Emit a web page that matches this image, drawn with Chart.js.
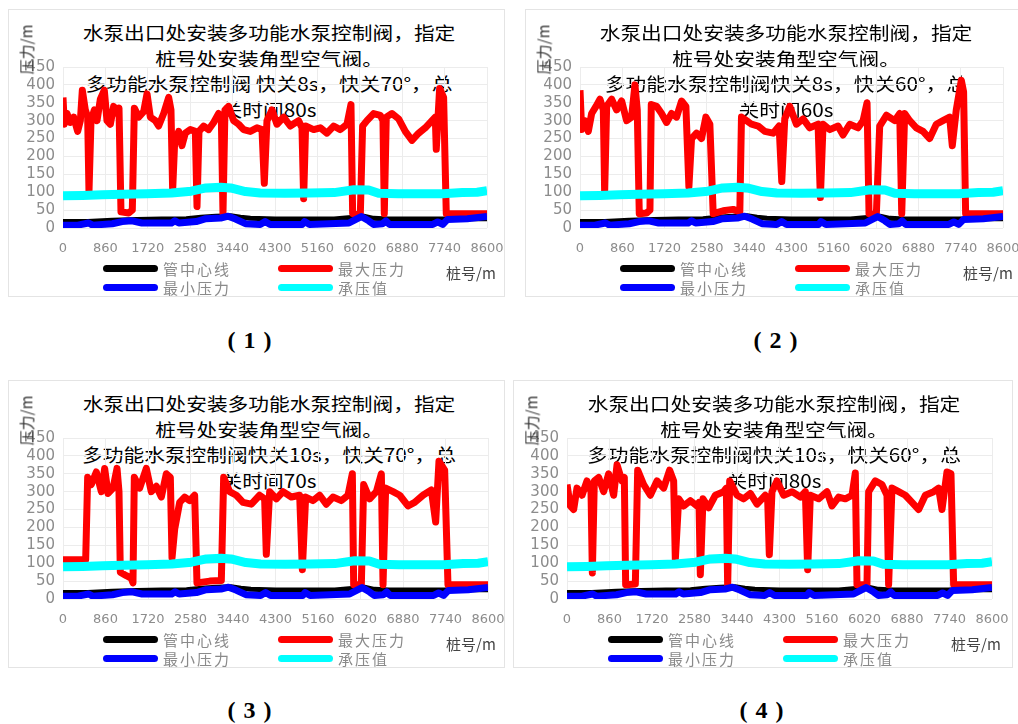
<!DOCTYPE html>
<html>
<head>
<meta charset="utf-8">
<script src="https://cdn.jsdelivr.net/npm/chart.js@4.4.1/dist/chart.umd.min.js"></script>
<style>
  body { margin: 0; background: #fff; width: 1018px; height: 724px; overflow: hidden; position: relative; }
  .panel { position: absolute; border: 1px solid #e4e4e4; box-sizing: border-box; background: #fff; }
  .panel canvas { position: absolute; left: -1px; top: -1px; }
  .ttl { position: absolute; left: 0; width: 520px; text-align: center; color: #000;
         font-family: "Noto Sans CJK SC"; font-size: 18px; line-height: 25.5px; white-space: nowrap;
         transform: scaleX(1.15); transform-origin: 50% 0; }
  .ylab { position: absolute; font-family: "Noto Sans CJK SC"; font-size: 15px; color: #333;
          transform: rotate(-90deg); white-space: nowrap; }
  .leg { position: absolute; font-family: "Noto Sans CJK SC"; font-size: 15px; color: #8a8a8a; white-space: nowrap; letter-spacing: 2px; }
  .sw { position: absolute; height: 7px; width: 55px; border-radius: 4px; }
  .xlab { position: absolute; font-family: "Noto Sans CJK SC"; font-size: 15px; color: #444; white-space: nowrap; }
  .num { position: absolute; font-family: "Liberation Serif"; font-weight: bold; font-size: 24px; letter-spacing: 1px; white-space: nowrap; }
</style>
</head>
<body>
<script>
// x axis ticks (桩号/m)
const stationTicks = [0, 860, 1720, 2580, 3440, 4300, 5160, 6020, 6880, 7740, 8600];
const seriesNames = ['管中心线', '最大压力', '最小压力', '承压值'];
const seriesColors = ['#000000', '#ff0000', '#0000ff', '#00ffff'];

// 管中心线 (same in all four charts)
const centerX = [0, 500, 1000, 1500, 2000, 2500, 2800, 3100, 3400, 3600, 3800, 4300, 5000, 5500, 5900, 6100, 6300, 6600, 7000, 7700, 8000, 8600];
const centerY = [18, 18, 22, 24, 25, 26, 30, 33, 34, 30, 27, 25, 25, 25, 30, 33, 27, 25, 25, 25, 26, 26];

// 最小压力
const minX = [0, 300, 520, 600, 1000, 1200, 1400, 1600, 2200, 2270, 2350, 2700, 2900, 3200, 3350, 3500, 3700, 4000, 4100, 4200, 4850, 4900, 5000, 5800, 5950, 6050, 6200, 6300, 6480, 6550, 6620, 7500, 7600, 7700, 7800, 8200, 8600];
const minY = [8, 8, 14, 8, 12, 18, 20, 14, 14, 20, 14, 18, 26, 28, 33, 25, 12, 10, 18, 10, 10, 18, 10, 14, 25, 32, 20, 10, 12, 20, 10, 10, 17, 10, 24, 26, 32];

// 承压值
const bearX = [0, 400, 800, 1200, 1700, 2200, 2600, 2900, 3200, 3400, 3700, 4000, 4500, 5000, 5500, 5900, 6200, 6400, 6800, 7300, 7700, 8100, 8400, 8600];
const bearY = [90, 91, 93, 94, 96, 98, 103, 112, 114, 112, 102, 98, 97, 98, 99, 107, 106, 97, 96, 96, 96, 99, 100, 104];

// 最大压力, chart (1)
const max1X = [0, 27, 81, 149, 216, 297, 352, 392, 453, 500, 527, 568, 635, 690, 757, 838, 892, 960, 1027, 1095, 1136, 1176, 1332, 1406, 1447, 1535, 1636, 1704, 1771, 1873, 1940, 2042, 2143, 2190, 2224, 2265, 2346, 2413, 2481, 2582, 2684, 2718, 2758, 2853, 2954, 3056, 3157, 3211, 3245, 3285, 3360, 3461, 3562, 3664, 3799, 3934, 4036, 4083, 4137, 4239, 4340, 4475, 4610, 4779, 4847, 4881, 4921, 5084, 5219, 5354, 5489, 5624, 5760, 5841, 5875, 6030, 6077, 6165, 6300, 6436, 6490, 6517, 6557, 6672, 6808, 6943, 7078, 7213, 7348, 7484, 7551, 7571, 7639, 7720, 7774, 8600];
const max1Y = [365, 290, 320, 295, 310, 270, 300, 385, 330, 310, 100, 300, 330, 300, 360, 385, 300, 290, 340, 320, 335, 45, 42, 50, 335, 310, 325, 375, 310, 300, 285, 320, 365, 330, 105, 240, 270, 230, 265, 275, 270, 60, 270, 285, 275, 295, 320, 310, 40, 330, 340, 300, 290, 275, 270, 280, 275, 125, 300, 330, 290, 310, 285, 300, 280, 82, 285, 275, 280, 265, 285, 275, 290, 345, 40, 35, 285, 300, 320, 315, 300, 40, 310, 320, 305, 270, 245, 265, 280, 300, 310, 220, 390, 365, 40, 40];

// 最大压力, chart (2)
const max2X = [0, 34, 102, 169, 237, 325, 406, 474, 501, 542, 643, 745, 846, 948, 1049, 1117, 1164, 1205, 1354, 1422, 1449, 1557, 1659, 1760, 1862, 1963, 2065, 2153, 2214, 2268, 2369, 2471, 2559, 2640, 2708, 2911, 3114, 3249, 3283, 3385, 3487, 3622, 3757, 3926, 4048, 4102, 4163, 4265, 4400, 4536, 4671, 4840, 4887, 4942, 5077, 5246, 5348, 5484, 5653, 5755, 5836, 5876, 6025, 6093, 6229, 6398, 6500, 6541, 6601, 6703, 6838, 6974, 7109, 7244, 7379, 7515, 7569, 7650, 7752, 7799, 7840, 8600];
const max2Y = [385, 275, 300, 270, 320, 340, 360, 330, 100, 340, 360, 330, 355, 300, 310, 400, 330, 40, 42, 50, 345, 340, 320, 295, 320, 310, 355, 340, 115, 250, 265, 250, 310, 290, 40, 48, 52, 45, 310, 300, 290, 285, 270, 265, 285, 130, 305, 340, 290, 305, 280, 290, 85, 290, 275, 285, 260, 290, 280, 300, 350, 40, 38, 285, 315, 300, 320, 40, 320, 300, 280, 270, 250, 290, 300, 310, 230, 330, 413, 380, 40, 40];

// 最大压力, chart (3)
const max3X = [0, 459, 499, 573, 674, 776, 843, 911, 1012, 1093, 1133, 1160, 1282, 1383, 1416, 1443, 1551, 1686, 1787, 1889, 1990, 2091, 2172, 2206, 2260, 2361, 2462, 2563, 2664, 2711, 2968, 3204, 3251, 3372, 3507, 3642, 3811, 3979, 4080, 4114, 4182, 4317, 4452, 4620, 4789, 4843, 4910, 5059, 5194, 5328, 5463, 5632, 5767, 5855, 5882, 6037, 6084, 6206, 6341, 6442, 6476, 6529, 6678, 6813, 6981, 7116, 7284, 7453, 7541, 7608, 7723, 7790, 8600];
const max3Y = [110, 110, 340, 320, 355, 300, 365, 295, 310, 365, 300, 75, 65, 58, 45, 340, 310, 365, 300, 315, 285, 350, 340, 115, 195, 270, 285, 275, 290, 45, 50, 52, 340, 300, 290, 270, 265, 290, 280, 125, 300, 280, 300, 285, 290, 82, 285, 275, 290, 265, 285, 275, 290, 350, 40, 40, 320, 280, 300, 350, 40, 310, 300, 290, 260, 270, 290, 305, 215, 385, 360, 40, 40];

// 最大压力, chart (4)
const max4X = [0, 67, 135, 202, 304, 405, 486, 513, 553, 641, 742, 843, 944, 1012, 1113, 1160, 1187, 1383, 1430, 1551, 1686, 1821, 1956, 2077, 2158, 2192, 2260, 2361, 2496, 2631, 2671, 2698, 2752, 2867, 3002, 3170, 3224, 3251, 3292, 3440, 3575, 3710, 3845, 4013, 4060, 4094, 4148, 4249, 4384, 4553, 4722, 4823, 4870, 4924, 5092, 5261, 5362, 5497, 5632, 5767, 5834, 5868, 6070, 6104, 6238, 6373, 6475, 6508, 6576, 6711, 6846, 6981, 7116, 7251, 7419, 7520, 7588, 7689, 7770, 7824, 8600];
const max4Y = [320, 260, 250, 310, 290, 330, 300, 73, 330, 340, 300, 350, 290, 375, 330, 340, 40, 42, 360, 320, 290, 330, 310, 360, 330, 110, 280, 260, 275, 260, 270, 68, 280, 255, 290, 300, 310, 35, 330, 290, 280, 295, 265, 290, 280, 124, 300, 330, 290, 300, 285, 300, 82, 290, 280, 300, 260, 285, 280, 290, 352, 40, 40, 300, 330, 320, 290, 40, 310, 300, 290, 270, 250, 290, 300, 310, 250, 355, 350, 40, 40];

const titleLines = [
  ['水泵出口处安装多功能水泵控制阀，指定', '桩号处安装角型空气阀。', '多功能水泵控制阀 快关8s，快关70°，总', '关时间80s'],
  ['水泵出口处安装多功能水泵控制阀，指定', '桩号处安装角型空气阀。', '多功能水泵控制阀快关8s，快关60°，总', '关时间60s'],
  ['水泵出口处安装多功能水泵控制阀，指定', '桩号处安装角型空气阀。', '多功能水泵控制阀快关10s，快关70°，总', '关时间70s'],
  ['水泵出口处安装多功能水泵控制阀，指定', '桩号处安装角型空气阀。', '多功能水泵控制阀快关10s，快关60°，总', '关时间80s']
];
const panelLabels = ['( 1 )', '( 2 )', '( 3 )', '( 4 )'];

// panel boxes and plot areas (relative to panel)
const panels = [
  { left: 8,   top: 9,   w: 497, h: 288, L: 55, R: 479, T: 58, B: 219, mx: max1X, my: max1Y, numX: 250, numY: 342 },
  { left: 525, top: 9,   w: 500, h: 288, L: 55, R: 478, T: 58, B: 219, mx: max2X, my: max2Y, numX: 776, numY: 342 },
  { left: 8,   top: 380, w: 497, h: 288, L: 55, R: 480, T: 58, B: 219, mx: max3X, my: max3Y, numX: 250, numY: 712 },
  { left: 513, top: 380, w: 500, h: 288, L: 54, R: 479, T: 58, B: 219, mx: max4X, my: max4Y, numX: 762, numY: 712 }
];

function pts(xs, ys) {
  return xs.map(function(x, i) { return { x: x, y: ys[i] }; });
}

function line(label, color, width, data) {
  return {
    label: label, data: data, borderColor: color, backgroundColor: color,
    borderWidth: width, pointRadius: 0, tension: 0, fill: false,
    borderJoinStyle: 'round', borderCapStyle: 'butt'
  };
}

panels.forEach(function(p, k) {
  var div = document.createElement('div');
  div.className = 'panel';
  div.style.cssText = 'left:' + p.left + 'px;top:' + p.top + 'px;width:' + p.w + 'px;height:' + p.h + 'px;';
  document.body.appendChild(div);

  // title sits behind the plot, lines drawn over it
  var ttl = document.createElement('div');
  ttl.className = 'ttl';
  ttl.style.top = '10px';
  ttl.innerHTML = titleLines[k].join('<br>');
  div.appendChild(ttl);

  var cv = document.createElement('canvas');
  cv.width = p.w; cv.height = p.h;
  cv.style.width = p.w + 'px'; cv.style.height = p.h + 'px';
  div.appendChild(cv);

  var ylab = document.createElement('div');
  ylab.className = 'ylab';
  ylab.textContent = '压力/m';
  ylab.style.left = '-8px'; ylab.style.top = '29px';
  div.appendChild(ylab);

  // legend: 2 x 2
  var legPos = [[94, 259], [269, 259], [94, 278], [269, 278]];
  [0, 1, 2, 3].forEach(function(s, j) {
    var sw = document.createElement('div');
    sw.className = 'sw';
    sw.style.background = seriesColors[s];
    sw.style.left = legPos[j][0] + 'px';
    sw.style.top = (legPos[j][1] - 4) + 'px';
    div.appendChild(sw);
    var t = document.createElement('div');
    t.className = 'leg';
    t.textContent = seriesNames[s];
    t.style.left = (legPos[j][0] + 60) + 'px';
    t.style.top = (legPos[j][1] - 11) + 'px';
    div.appendChild(t);
  });
  var xl = document.createElement('div');
  xl.className = 'xlab';
  xl.textContent = '桩号/m';
  xl.style.left = '437px'; xl.style.top = '252px';
  div.appendChild(xl);

  var num = document.createElement('div');
  num.className = 'num';
  num.textContent = panelLabels[k];
  document.body.appendChild(num);
  num.style.left = (p.numX - num.offsetWidth / 2) + 'px';
  num.style.top = (p.numY - 15) + 'px';

  var xh = 40;
  new Chart(cv.getContext('2d'), {
    type: 'line',
    data: {
      datasets: [
        line(seriesNames[3], seriesColors[3], 9, pts(bearX, bearY)),
        line(seriesNames[2], seriesColors[2], 7, pts(minX, minY)),
        line(seriesNames[1], seriesColors[1], 7, pts(p.mx, p.my)),
        line(seriesNames[0], seriesColors[0], 5, pts(centerX, centerY))
      ]
    },
    options: {
      responsive: false,
      animation: false,
      events: [],
      layout: { padding: { left: 0, top: p.T, right: p.w - p.R, bottom: p.h - p.B - xh } },
      plugins: { legend: { display: false }, title: { display: false }, tooltip: { enabled: false } },
      scales: {
        x: {
          type: 'linear', min: 0, max: 8600,
          afterBuildTicks: function(s) { s.ticks = stationTicks.map(function(v) { return { value: v }; }); },
          afterFit: function(s) { s.height = xh; s.paddingLeft = 0; s.paddingRight = 0; },
          grid: { color: '#ececec', drawTicks: false },
          border: { display: false },
          ticks: { padding: 13, maxRotation: 0, autoSkip: false, color: '#8c8c8c',
                   font: { family: 'DejaVu Sans', size: 13 },
                   callback: function(v) { return String(Math.round(v)); } }
        },
        y: {
          min: 0, max: 450,
          afterFit: function(s) { s.width = p.L; s.paddingTop = 0; s.paddingBottom = 0; },
          grid: { color: '#ececec', drawTicks: false },
          border: { display: false },
          ticks: { stepSize: 50, autoSkip: false, padding: 8, color: '#8c8c8c', font: { family: 'DejaVu Sans', size: 15 } }
        }
      }
    }
  });
});
</script>
</body>
</html>
